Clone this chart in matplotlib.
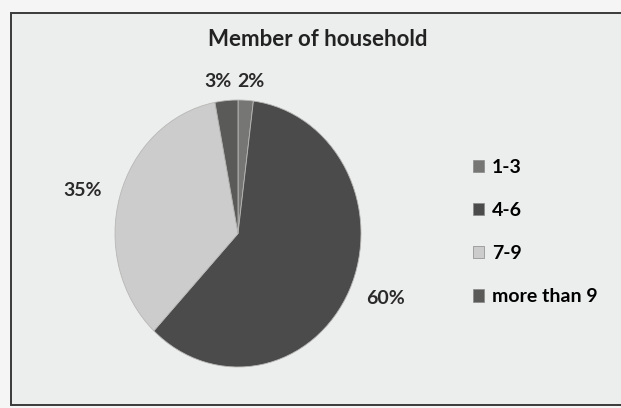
import matplotlib
matplotlib.use("Agg")
import matplotlib.pyplot as plt
from matplotlib.patches import Rectangle, Patch
from matplotlib.transforms import ScaledTranslation

# Data
categories = ['1-3', '4-6', '7-9', 'more than 9']
shares = [2, 60, 35, 3]
colors = ['#767674', '#4b4b4b', '#cbcccb', '#5a5a59']
title = 'Member of household'

plt.rcParams['font.family'] = ['Lato', 'DejaVu Sans']

fig = plt.figure(figsize=(6.21, 4.08), dpi=100, facecolor='#f4f5f4')

# chart frame
fig.patches.append(Rectangle((11 / 621, 3 / 408), 0.99, 1 - 16 / 408,
                             transform=fig.transFigure, facecolor='#eceeed',
                             edgecolor='#3a3a3a', linewidth=1.4, zorder=-5))

fig.text(318 / 621, 1 - 40 / 408, title, ha='center', va='center',
         fontsize=16, fontweight='bold', color='#222222')

# pie (slightly taller than wide, like the photo)
ax = fig.add_axes([115 / 621, 1 - 367 / 408, 246 / 621, 267 / 408])
wedges, texts = ax.pie(shares, colors=colors, startangle=90, counterclock=False,
                       labels=[f'{s}%' for s in shares], labeldistance=1.15,
                       wedgeprops=dict(edgecolor='#b8b8b6', linewidth=0.6),
                       textprops=dict(fontsize=14, fontweight='bold', color='#2a2a2a'))
# pull the two labels of the thin top slices closer together
texts[0].set_transform(texts[0].get_transform() + ScaledTranslation(-0.10, -0.01, fig.dpi_scale_trans))
texts[3].set_transform(texts[3].get_transform() + ScaledTranslation(0.07, -0.01, fig.dpi_scale_trans))
ax.set_aspect('auto')
ax.set_xlim(-1, 1)
ax.set_ylim(-1, 1)

handles = [Patch(facecolor=c, edgecolor='#888888', linewidth=0.5) for c in colors]
fig.legend(handles, categories, loc='center left', bbox_to_anchor=(455 / 621, 1 - 232 / 408),
           frameon=False, prop=dict(weight='bold', size=14),
           handlelength=0.6, handleheight=0.6, handletextpad=0.4, labelspacing=1.35)

fig.savefig('out.png', dpi=100, facecolor=fig.get_facecolor())
